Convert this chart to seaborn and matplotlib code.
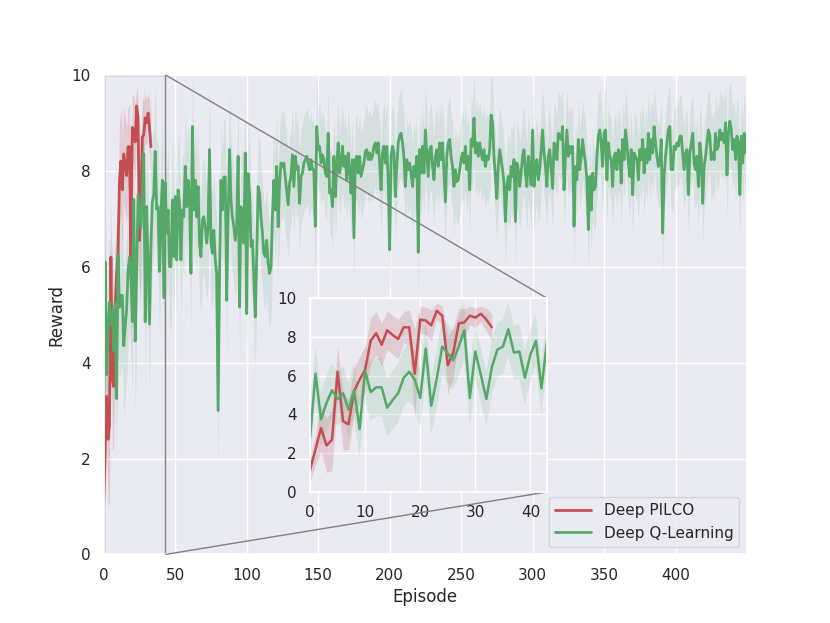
import numpy as np
import matplotlib
matplotlib.use('Agg')
import matplotlib.pyplot as plt
import seaborn as sns
from mpl_toolkits.axes_grid1.inset_locator import mark_inset

# Deep PILCO: mean reward per episode and spread
pilco_mean = [1.13, 2.2, 3.3, 2.4, 2.7, 6.2, 3.65, 3.5, 5.2, 5.8,
              6.3, 7.8, 8.2, 7.6, 8.35, 8.1, 7.9, 8.5, 8.5, 6.1,
              8.9, 8.85, 8.6, 9.35, 9.1, 6.55, 7.2, 8.7, 8.75, 9.1,
              9.0, 9.2, 8.9, 8.5]
pilco_sd = [0.6, 0.8, 1.2, 1.4, 1.6, 1.3, 1.5, 1.3, 1.2, 1.2,
            1.2, 1.2, 1.1, 1.1, 1.0, 1.0, 1.0, 0.8, 0.9, 2.3,
            0.7, 0.7, 0.8, 0.4, 0.5, 1.5, 1.3, 0.8, 0.7, 0.5,
            0.5, 0.4, 0.6, 0.7]

# Deep Q-Learning: mean reward per episode
dqn_mean = [
    2.8, 6.1, 3.75, 4.6, 5.25, 4.8, 5.1, 4.25, 5.25, 3.25,
    6.25, 5.15, 5.4, 5.4, 4.35, 4.75, 5.1, 5.9, 6.2, 5.8,
    4.85, 7.4, 4.45, 5.85, 7.5, 7.15, 6.8, 7.5, 8.35, 4.85,
    7.25, 6.05, 4.8, 6.45, 7.35, 7.5, 8.4, 7.2, 7.25, 5.9,
    7.1, 7.8, 5.35, 7.75, 6.7, 7.18, 6.0, 6.0, 7.39, 6.21,
    7.46, 6.14, 7.6, 7.32, 6.14, 7.18, 7.04, 8.09, 7.25, 7.8,
    7.46, 5.86, 8.92, 7.18, 7.8, 7.04, 7.67, 6.49, 6.21, 6.97,
    7.04, 6.83, 6.49, 6.83, 8.44, 6.49, 6.28, 6.76, 6.14, 5.86,
    3.0, 5.86, 7.8, 7.18, 7.87, 7.87, 5.3, 7.04, 8.44, 7.39,
    7.04, 6.83, 6.55, 6.83, 8.3, 5.16, 7.25, 7.11, 6.49, 8.37,
    5.02, 7.94, 7.53, 6.42, 6.55, 5.79, 4.95, 6.21, 7.67, 7.53,
    7.04, 6.7, 6.28, 6.21, 6.55, 6.07, 5.86, 6.0, 7.04, 7.8,
    7.18, 8.09, 6.83, 7.74, 8.16, 8.09, 8.16, 7.87, 7.6, 7.29,
    7.74, 7.88, 8.33, 7.67, 8.3, 8.02, 8.09, 7.32, 7.88, 7.95,
    8.16, 8.23, 8.3, 8.16, 8.02, 8.23, 8.02, 8.02, 6.84, 8.92,
    8.44, 8.51, 8.16, 8.33, 8.23, 7.95, 7.88, 8.78, 7.53, 7.6,
    7.25, 8.3, 7.46, 8.09, 8.58, 7.95, 8.16, 8.51, 8.09, 8.3,
    7.81, 8.37, 8.02, 7.53, 8.23, 6.6, 8.23, 8.3, 7.95, 8.3,
    7.88, 8.02, 8.16, 8.4, 8.44, 8.23, 8.37, 8.23, 8.3, 8.51,
    8.58, 8.37, 8.58, 8.16, 7.6, 8.37, 8.51, 8.16, 8.51, 7.81,
    6.35, 8.3, 8.51, 8.37, 7.46, 8.09, 8.58, 8.72, 8.78, 8.58,
    8.3, 7.67, 8.23, 8.02, 8.16, 7.95, 7.67, 8.09, 7.88, 8.3,
    6.3, 8.44, 7.95, 8.51, 7.95, 8.85, 8.37, 7.88, 8.44, 8.51,
    8.09, 7.81, 8.3, 8.44, 8.09, 8.58, 8.23, 8.58, 7.95, 7.35,
    8.3, 8.58, 8.65, 8.3, 8.09, 7.67, 8.02, 7.77, 7.81, 8.02,
    8.23, 8.37, 8.16, 8.51, 8.02, 8.3, 7.6, 8.65, 8.51, 9.1,
    8.37, 8.58, 8.3, 8.58, 8.37, 8.23, 8.44, 8.09, 8.3, 8.23,
    8.44, 9.16, 8.99, 8.3, 7.88, 7.42, 8.09, 8.44, 8.23, 8.02,
    7.74, 6.94, 7.67, 7.88, 7.6, 8.09, 7.88, 8.23, 6.94, 8.16,
    8.02, 7.67, 7.95, 8.3, 8.44, 7.95, 7.67, 8.3, 8.02, 7.7,
    8.85, 7.67, 8.02, 8.23, 7.81, 8.02, 8.44, 8.85, 8.37, 8.09,
    7.67, 8.3, 8.44, 8.02, 7.63, 8.58, 8.51, 8.23, 8.78, 8.72,
    8.65, 8.92, 7.6, 8.3, 8.85, 8.3, 8.51, 8.37, 8.51, 6.84,
    8.09, 7.81, 8.65, 8.02, 8.3, 8.65, 8.37, 8.16, 7.81, 6.77,
    7.88, 7.18, 7.95, 7.6, 7.67, 8.3, 8.72, 8.85, 8.58, 8.09,
    8.78, 8.85, 7.81, 8.58, 8.3, 8.23, 7.67, 8.3, 8.37, 8.02,
    8.44, 8.37, 7.74, 8.65, 8.23, 8.85, 8.58, 8.16, 7.88, 8.44,
    7.5, 8.37, 8.3, 8.23, 7.81, 8.44, 8.23, 8.65, 7.95, 8.44,
    8.16, 8.78, 8.23, 8.65, 8.37, 8.92, 8.58, 8.3, 8.09, 8.16,
    8.65, 6.7, 7.88, 8.3, 8.58, 8.85, 8.92, 8.02, 8.02, 8.51,
    8.44, 8.58, 8.51, 8.72, 8.72, 8.37, 8.02, 8.37, 8.44, 7.5,
    8.37, 8.58, 8.78, 8.16, 8.02, 8.3, 7.67, 8.58, 8.3, 7.32,
    8.09, 8.3, 8.58, 8.85, 8.72, 8.23, 8.37, 8.23, 8.78, 8.44,
    8.51, 8.85, 8.65, 8.78, 8.58, 9.0, 7.91, 8.78, 9.03, 8.85,
    8.44, 8.65, 8.23, 8.72, 8.58, 7.5, 8.72, 8.16, 8.78, 8.37,
]
# spread of Deep Q-Learning, one estimate per block of 10 episodes
dqn_sd_blocks = [1.4, 1.5, 1.5, 1.4, 1.3, 1.2, 1.2, 1.2, 1.2, 1.2,
                 1.1, 1.1, 1.1, 1.0, 1.0, 0.9, 0.9, 0.9, 0.9, 0.9,
                 0.9, 0.9, 0.9, 0.9, 0.9, 0.9, 0.9, 0.9, 0.9, 0.9,
                 0.9, 0.85, 0.85, 0.85, 0.85, 0.85, 0.85, 0.85, 0.85, 0.85,
                 0.85, 0.85, 0.85, 0.85, 0.85]

pilco_ep = np.arange(len(pilco_mean))
dqn_ep = np.arange(len(dqn_mean))
pilco_mean = np.array(pilco_mean)
pilco_sd = np.array(pilco_sd)
dqn_mean = np.array(dqn_mean)
dqn_sd = np.repeat(dqn_sd_blocks, 10)[:len(dqn_mean)]

red = '#C44E52'
green = '#55A868'

sns.set_theme(style='darkgrid')

fig = plt.figure(figsize=(8.3, 6.23), dpi=100)
ax = fig.add_axes([0.125, 0.11, 0.775, 0.77])


def draw(a, lw):
    a.fill_between(pilco_ep, pilco_mean - pilco_sd, pilco_mean + pilco_sd,
                   color=red, alpha=0.2, linewidth=0)
    a.fill_between(dqn_ep, dqn_mean - dqn_sd, dqn_mean + dqn_sd,
                   color=green, alpha=0.15, linewidth=0)
    sns.lineplot(x=pilco_ep, y=pilco_mean, ax=a, color=red, lw=lw, label='Deep PILCO')
    sns.lineplot(x=dqn_ep, y=dqn_mean, ax=a, color=green, lw=lw, label='Deep Q-Learning')


draw(ax, 2.0)
ax.set_xlim(0, 450)
ax.set_ylim(0, 10)
ax.set_xticks(np.arange(0, 401, 50))
ax.set_yticks(np.arange(0, 11, 2))
ax.set_xlabel('Episode')
ax.set_ylabel('Reward')
ax.legend(loc='lower right', handlelength=2.4)

# zoomed inset on the first episodes
axins = fig.add_axes([0.3735, 0.2103, 0.2855, 0.311])
draw(axins, 1.8)
axins.set_xlim(0, 43)
axins.set_ylim(0, 10)
axins.set_xticks([0, 10, 20, 30, 40])
axins.set_yticks(np.arange(0, 11, 2))
axins.set_xlabel('')
axins.set_ylabel('')
axins.get_legend().remove()

mark_inset(ax, axins, loc1=1, loc2=4, fc='none', ec='0.5')

fig.savefig('out.png', dpi=100)
